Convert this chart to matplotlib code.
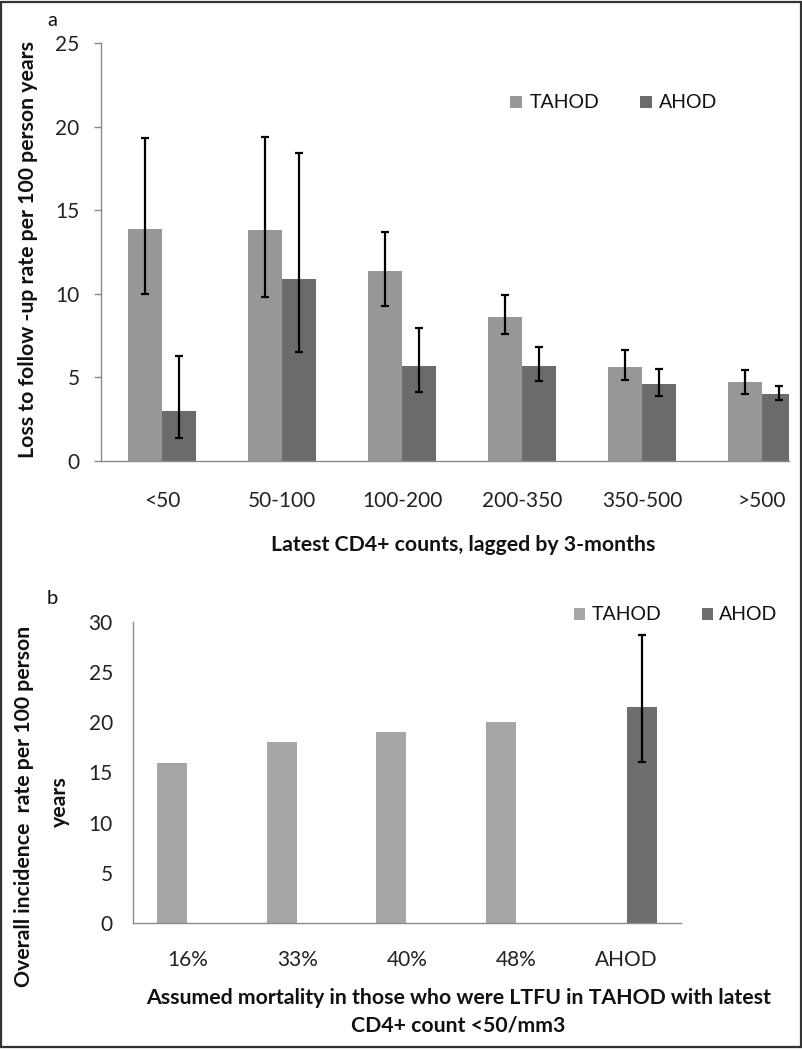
import matplotlib
matplotlib.use("Agg")
import matplotlib.pyplot as plt
from matplotlib.patches import Rectangle
import numpy as np

plt.rcParams['font.family'] = ['Lato', 'DejaVu Sans']

# ---------------- data ----------------
cd4_categories = ["<50", "50-100", "100-200", "200-350", "350-500", ">500"]
tahod_ltfu = [13.9, 13.8, 11.35, 8.6, 5.65, 4.7]
tahod_ltfu_lo = [10.0, 9.8, 9.3, 7.6, 4.85, 4.0]
tahod_ltfu_hi = [19.3, 19.4, 13.7, 9.9, 6.65, 5.45]
ahod_ltfu = [3.0, 10.9, 5.7, 5.7, 4.6, 4.0]
ahod_ltfu_lo = [1.4, 6.5, 4.1, 4.8, 3.9, 3.65]
ahod_ltfu_hi = [6.3, 18.4, 7.95, 6.8, 5.5, 4.5]

mort_categories = ["16%", "33%", "40%", "48%", "AHOD"]
tahod_incidence = [15.9, 18.0, 19.0, 20.0, np.nan]
ahod_incidence = [np.nan, np.nan, np.nan, np.nan, 21.5]
ahod_incidence_lo = [np.nan, np.nan, np.nan, np.nan, 16.0]
ahod_incidence_hi = [np.nan, np.nan, np.nan, np.nan, 28.7]

# ---------------- styling ----------------
W, H = 803, 1050
C_TAHOD_A = "#979797"
C_AHOD_A = "#6b6b6b"
C_TAHOD_B = "#a6a6a6"
C_AHOD_B = "#6e6e6e"
AX_COL = "#8a8a8a"
TICK_FS = 15
LABEL_FS = 15.3

fig = plt.figure(figsize=(W / 100, H / 100), dpi=100)

def fx(px):
    return px / W

def fy(py):
    return 1 - py / H

def style_axis(ax):
    for s in ["top", "right"]:
        ax.spines[s].set_visible(False)
    for s in ["left", "bottom"]:
        ax.spines[s].set_color(AX_COL)
        ax.spines[s].set_linewidth(1.0)
    ax.tick_params(axis="y", direction="out", length=5, width=1.0, color=AX_COL,
                   labelsize=TICK_FS, labelcolor="#222222")
    ax.tick_params(axis="x", length=0, labelsize=TICK_FS, labelcolor="#222222")

# ---------------- panel a ----------------
axL, axR, axT, axB = 101, 789, 43, 461
ax1 = fig.add_axes([fx(axL), fy(axB), fx(axR - axL), (axB - axT) / H])
x = np.arange(len(cd4_categories))
bw = 0.285
off = 0.142
t_err = [np.array(tahod_ltfu) - np.array(tahod_ltfu_lo), np.array(tahod_ltfu_hi) - np.array(tahod_ltfu)]
a_err = [np.array(ahod_ltfu) - np.array(ahod_ltfu_lo), np.array(ahod_ltfu_hi) - np.array(ahod_ltfu)]
ax1.bar(x - off, tahod_ltfu, width=bw, color=C_TAHOD_A, zorder=2)
ax1.bar(x + off, ahod_ltfu, width=bw, color=C_AHOD_A, zorder=2)
ax1.errorbar(x - off, tahod_ltfu, yerr=t_err, fmt="none", ecolor="black",
             elinewidth=1.6, capsize=3.2, capthick=1.6, zorder=3)
ax1.errorbar(x + off, ahod_ltfu, yerr=a_err, fmt="none", ecolor="black",
             elinewidth=1.6, capsize=3.2, capthick=1.6, zorder=3)
ax1.set_ylim(0, 25)
ax1.set_yticks([0, 5, 10, 15, 20, 25])
ax1.set_xlim(-0.508, 5.225)
ax1.set_xticks(x)
ax1.set_xticklabels(cd4_categories)
style_axis(ax1)
ax1.tick_params(axis="y", pad=10.5)
ax1.tick_params(axis="x", pad=21.5)

fig.text(fx(28), fy(250), "Loss to follow -up rate per 100 person years", rotation=90,
         ha="center", va="center", fontsize=LABEL_FS, fontweight="bold", color="#111111")
fig.text(fx(463), fy(545), "Latest CD4+ counts, lagged by 3-months",
         ha="center", va="center", fontsize=LABEL_FS, fontweight="bold", color="#111111")
fig.text(fx(52), fy(20), "a", ha="center", va="center", fontsize=14.5, color="#111111")

# legend a
for sx, tx, col, lab in [(510, 530, C_TAHOD_A, "TAHOD"), (640, 659, C_AHOD_A, "AHOD")]:
    fig.add_artist(Rectangle((fx(sx), fy(108)), fx(12), 12 / H, transform=fig.transFigure,
                             facecolor=col, edgecolor="none"))
    fig.text(fx(tx), fy(102), lab, ha="left", va="center", fontsize=14, color="#111111")

# ---------------- panel b ----------------
bL, bR, bT, bB = 133, 681, 621.7, 923
ax2 = fig.add_axes([fx(bL), fy(bB), fx(bR - bL), (bB - bT) / H])
x2 = np.arange(len(mort_categories))
bw2 = 0.274
off2 = 0.142
ax2.bar(x2 - off2, tahod_incidence, width=bw2, color=C_TAHOD_B, zorder=2)
ax2.bar(x2 + off2, ahod_incidence, width=bw2, color=C_AHOD_B, zorder=2)
b_err = [np.array(ahod_incidence) - np.array(ahod_incidence_lo),
         np.array(ahod_incidence_hi) - np.array(ahod_incidence)]
ax2.errorbar(x2 + off2, ahod_incidence, yerr=b_err, fmt="none", ecolor="black",
             elinewidth=1.6, capsize=3.2, capthick=1.6, zorder=3)
ax2.set_ylim(0, 30)
ax2.set_yticks([0, 5, 10, 15, 20, 25, 30])
ax2.set_xlim(-0.5, 4.5)
ax2.set_xticks(x2)
ax2.set_xticklabels(mort_categories)
style_axis(ax2)
ax2.tick_params(axis="y", length=0, pad=14.5)
ax2.tick_params(axis="x", pad=19.5)

fig.text(fx(24), fy(806), "Overall incidence  rate per 100 person", rotation=90,
         ha="center", va="center", fontsize=LABEL_FS, fontweight="bold", color="#111111")
fig.text(fx(60), fy(802), "years", rotation=90,
         ha="center", va="center", fontsize=LABEL_FS, fontweight="bold", color="#111111")
fig.text(fx(459), fy(998), "Assumed mortality in those who were LTFU in TAHOD with latest",
         ha="center", va="center", fontsize=LABEL_FS, fontweight="bold", color="#111111")
fig.text(fx(458), fy(1025), "CD4+ count <50/mm3",
         ha="center", va="center", fontsize=LABEL_FS, fontweight="bold", color="#111111")
fig.text(fx(52), fy(598), "b", ha="center", va="center", fontsize=14.5, color="#111111")

for sx, tx, col, lab in [(574, 592, C_TAHOD_B, "TAHOD"), (702, 719, C_AHOD_B, "AHOD")]:
    fig.add_artist(Rectangle((fx(sx), fy(620)), fx(11), 12 / H, transform=fig.transFigure,
                             facecolor=col, edgecolor="none"))
    fig.text(fx(tx), fy(614), lab, ha="left", va="center", fontsize=14, color="#111111")

# outer border
fig.add_artist(Rectangle((fx(1), fy(1047)), fx(800), 1045 / H, transform=fig.transFigure,
                         facecolor="none", edgecolor="#333333", linewidth=1.6))

fig.savefig("out.png", dpi=100)
